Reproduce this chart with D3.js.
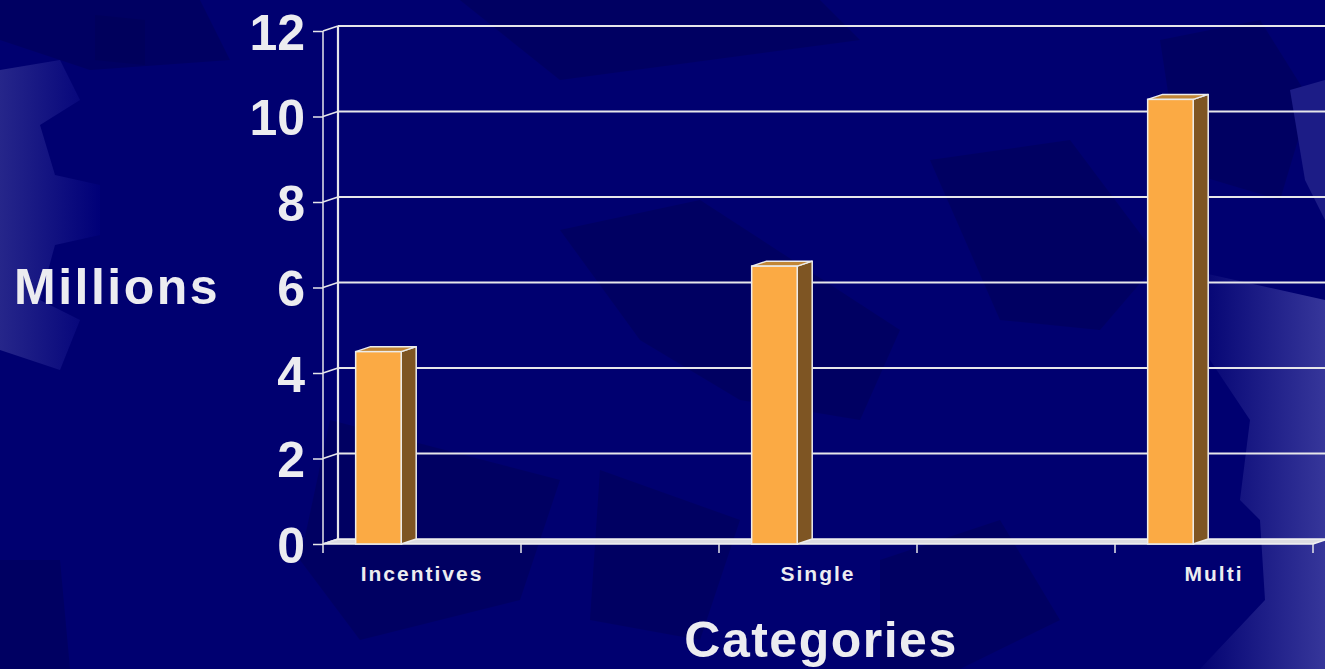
<!DOCTYPE html>
<html>
<head>
<meta charset="utf-8">
<script src="https://cdn.jsdelivr.net/npm/d3@7"></script>
<style>
  html, body { margin: 0; padding: 0; background: #000070; overflow: hidden; }
  text { font-family: "Liberation Sans", Arial, sans-serif; font-weight: bold; fill: #ececf0; }
</style>
</head>
<body>
<div id="chart"></div>
<script>
// chart data
var categories = ["Incentives", "", "Single", "", "Multi"];
var values = [4.5, null, 6.5, null, 10.4];
var yTicks = [0, 2, 4, 6, 8, 10, 12];

var svgWidth = 1325;
var svgHeight = 669;

// 3d depth offset of the back wall
var dx = 15;
var dy = -5;

var svg = d3.select("#chart")
  .append("svg")
  .attr("width", svgWidth)
  .attr("height", svgHeight);

// ---- background ----
var defs = svg.append("defs");
var gr = defs.append("linearGradient").attr("id", "rightGlow")
  .attr("x1", "0").attr("x2", "1").attr("y1", "0").attr("y2", "0");
gr.append("stop").attr("offset", "0").attr("stop-color", "#000070");
gr.append("stop").attr("offset", "1").attr("stop-color", "#36369a");
var gl = defs.append("linearGradient").attr("id", "leftGlow")
  .attr("x1", "0").attr("x2", "1").attr("y1", "0").attr("y2", "0");
gl.append("stop").attr("offset", "0").attr("stop-color", "#26268a");
gl.append("stop").attr("offset", "1").attr("stop-color", "#000078");

svg.append("rect")
  .attr("width", svgWidth)
  .attr("height", svgHeight)
  .attr("fill", "#000070");

var bg = svg.append("g");
// darker decorative blocks
var darkShapes = [
  [[0, 0], [200, 0], [230, 60], [90, 70], [0, 40]],
  [[95, 15], [145, 20], [145, 65], [95, 60]],
  [[460, 0], [820, 0], [860, 40], [560, 80]],
  [[330, 420], [560, 480], [520, 600], [360, 640], [300, 560]],
  [[600, 470], [740, 520], [700, 640], [590, 620]],
  [[560, 230], [700, 200], [900, 330], [860, 420], [740, 400], [640, 340]],
  [[930, 160], [1070, 140], [1160, 260], [1100, 330], [1000, 320]],
  [[1160, 40], [1260, 20], [1310, 100], [1280, 200], [1180, 170]],
  [[0, 560], [60, 560], [70, 669], [0, 669]],
  [[880, 560], [1000, 520], [1060, 620], [960, 669], [880, 669]]
];
bg.selectAll("polygon.dark")
  .data(darkShapes)
  .enter()
  .append("polygon")
  .attr("class", "dark")
  .attr("points", d => d.map(p => p.join(",")).join(" "))
  .attr("fill", "#000058")
  .attr("opacity", 0.55);

// lighter gear on the left
bg.append("polygon")
  .attr("points", "0,70 60,60 80,100 40,125 55,175 100,185 100,235 55,245 40,300 80,320 60,370 0,350")
  .attr("fill", "url(#leftGlow)");

// lighter gear on the right
bg.append("polygon")
  .attr("points", "1190,270 1325,300 1325,669 1200,669 1265,600 1260,520 1240,500 1250,420 1210,360")
  .attr("fill", "url(#rightGlow)");
bg.append("polygon")
  .attr("points", "1290,90 1325,80 1325,220 1305,180")
  .attr("fill", "#1c1c86");

// ---- scales ----
var x = d3.scaleBand()
  .domain(d3.range(categories.length))
  .range([323, 1313])
  .paddingInner(0)
  .paddingOuter(0);

var y = d3.scaleLinear()
  .domain([0, 12])
  .range([544, 31]);

var chartGroup = svg.append("g");
var lineColor = "#e6e6ea";

// floor
var x0 = x.range()[0], x1 = x.range()[1];
chartGroup.append("polygon")
  .attr("points", [[x0, y(0)], [x1, y(0)], [x1 + dx, y(0) + dy], [x0 + dx, y(0) + dy]].map(p => p.join(",")).join(" "))
  .attr("fill", "#dcdce2")
  .attr("stroke", "#f2f2f2")
  .attr("stroke-width", 1.5);

// gridlines on the back wall and the side wall
chartGroup.selectAll("line.grid")
  .data(yTicks.filter(d => d > 0))
  .enter()
  .append("line")
  .attr("class", "grid")
  .attr("x1", x0 + dx)
  .attr("x2", svgWidth)
  .attr("y1", d => y(d) + dy)
  .attr("y2", d => y(d) + dy)
  .attr("stroke", lineColor)
  .attr("stroke-width", 2.2);

chartGroup.selectAll("line.side")
  .data(yTicks)
  .enter()
  .append("line")
  .attr("class", "side")
  .attr("x1", x0)
  .attr("x2", x0 + dx)
  .attr("y1", d => y(d))
  .attr("y2", d => y(d) + dy)
  .attr("stroke", lineColor)
  .attr("stroke-width", 1.5);

// side wall back edge
chartGroup.append("line")
  .attr("x1", x0 + dx).attr("x2", x0 + dx)
  .attr("y1", y(12) + dy).attr("y2", y(0) + dy)
  .attr("stroke", lineColor)
  .attr("stroke-width", 2.2);

// front value axis
var leftAxis = d3.axisLeft(y)
  .tickValues(yTicks)
  .tickSize(10)
  .tickSizeOuter(0)
  .tickPadding(8);

var yAxisG = chartGroup.append("g")
  .attr("transform", `translate(${x0}, 0)`)
  .call(leftAxis);
yAxisG.select(".domain").remove();
yAxisG.selectAll("line").attr("stroke", lineColor).attr("stroke-width", 1.5);
yAxisG.selectAll("text")
  .attr("font-size", "50px")
  .attr("font-family", "Liberation Sans, Arial, sans-serif")
  .attr("font-weight", "bold")
  .attr("fill", "#ececf0")
  .attr("dy", "0.36em");

chartGroup.append("line")
  .attr("x1", x0).attr("x2", x0)
  .attr("y1", y(12)).attr("y2", y(0) + 9)
  .attr("stroke", lineColor)
  .attr("stroke-width", 1.5);

// category tick marks at band edges
chartGroup.selectAll("line.ctick")
  .data(d3.range(categories.length))
  .enter()
  .append("line")
  .attr("class", "ctick")
  .attr("x1", d => x(d) + x.bandwidth())
  .attr("x2", d => x(d) + x.bandwidth())
  .attr("y1", y(0))
  .attr("y2", y(0) + 9)
  .attr("stroke", lineColor)
  .attr("stroke-width", 1.5);

// category labels
var bottomAxis = d3.axisBottom(x)
  .tickSize(0)
  .tickPadding(22)
  .tickFormat(i => categories[i]);
var xAxisG = chartGroup.append("g")
  .attr("transform", `translate(0, ${y(0)})`)
  .call(bottomAxis);
xAxisG.select(".domain").remove();
xAxisG.selectAll("text")
  .attr("font-size", "21px")
  .attr("font-family", "Liberation Sans, Arial, sans-serif")
  .attr("font-weight", "bold")
  .attr("letter-spacing", "2px")
  .attr("fill", "#ececf0");

// ---- 3d bars ----
var barData = values.map((v, i) => ({ i: i, v: v })).filter(d => d.v !== null);
var barOff = x.bandwidth() * 0.165;
var barW = x.bandwidth() * 0.23;

var bars = chartGroup.selectAll("g.bar")
  .data(barData)
  .enter()
  .append("g")
  .attr("class", "bar");

function pts(a) { return a.map(p => p.join(",")).join(" "); }

// side face
bars.append("polygon")
  .attr("points", d => {
    var l = x(d.i) + barOff + barW;
    return pts([[l, y(0)], [l + dx, y(0) + dy], [l + dx, y(d.v) + dy], [l, y(d.v)]]);
  })
  .attr("fill", "#7e5523")
  .attr("stroke", "#ececec")
  .attr("stroke-width", 1.5)
  .attr("stroke-linejoin", "round");

// top face
bars.append("polygon")
  .attr("points", d => {
    var l = x(d.i) + barOff;
    return pts([[l, y(d.v)], [l + barW, y(d.v)], [l + barW + dx, y(d.v) + dy], [l + dx, y(d.v) + dy]]);
  })
  .attr("fill", "#c18636")
  .attr("stroke", "#ececec")
  .attr("stroke-width", 1.5)
  .attr("stroke-linejoin", "round");

// front face
bars.append("rect")
  .attr("x", d => x(d.i) + barOff)
  .attr("y", d => y(d.v))
  .attr("width", barW)
  .attr("height", d => y(0) - y(d.v))
  .attr("fill", "#fbaa44")
  .attr("stroke", "#ececec")
  .attr("stroke-width", 1.5);

// axis titles
svg.append("text")
  .attr("x", 14)
  .attr("y", 304)
  .attr("font-size", "50px")
  .attr("letter-spacing", "2.5px")
  .text("Millions");

svg.append("text")
  .attr("x", 821)
  .attr("y", 657)
  .attr("text-anchor", "middle")
  .attr("font-size", "50px")
  .attr("letter-spacing", "1.5px")
  .text("Categories");
</script>
</body>
</html>
